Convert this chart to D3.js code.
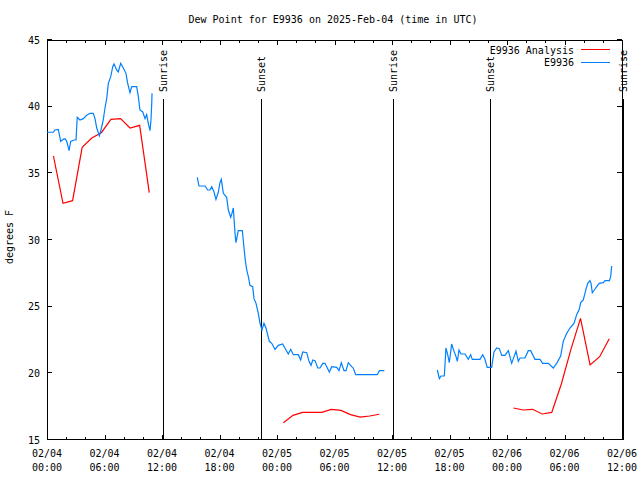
<!DOCTYPE html>
<html><head><meta charset="utf-8">
<script src="https://cdn.jsdelivr.net/npm/d3@7"></script>
<style>
body{margin:0;background:#fff;}
svg{display:block;}
text{font-family:"DejaVu Sans Mono",monospace;font-size:10px;fill:#000;}
</style></head>
<body><svg id="c" width="640" height="480"></svg>
<script>
// Observed E9936 dew point (hours since 2025-02-04 00:00 UTC); null = gap
const obsHours = [0.0,0.66,0.83,1.18,1.43,1.70,1.88,2.06,2.30,2.47,2.82,3.03,3.10,3.16,3.44,3.79,4.14,4.49,4.83,5.01,5.19,5.46,5.63,5.87,6.05,6.23,6.40,6.65,6.86,6.99,7.27,7.44,7.69,7.96,8.24,8.42,8.66,8.84,9.36,9.53,9.70,9.99,10.23,10.40,10.57,10.75,10.85,10.93,10.96,
 13.0,
 15.68,15.86,16.49,16.77,17.01,17.19,17.43,17.63,17.88,18.05,18.19,18.40,18.75,18.92,19.17,19.30,19.44,19.62,19.72,19.96,20.38,20.56,20.69,20.84,21.01,21.18,21.46,21.60,21.81,22.05,22.23,22.43,22.64,22.85,23.20,23.45,23.79,24.14,24.59,24.94,25.18,25.43,25.70,26.22,26.47,26.68,27.10,27.34,27.55,27.73,27.97,28.25,28.49,28.77,29.01,29.46,29.71,30.23,30.47,30.71,30.99,31.20,31.44,31.79,31.96,32.21,34.47,34.68,35.20,
 38.0,
 40.73,40.94,41.11,41.46,41.63,41.81,41.98,42.23,42.40,42.68,42.82,42.99,43.20,43.62,43.96,44.21,44.38,45.18,45.46,45.70,45.94,46.40,46.64,46.93,47.20,47.45,47.79,48.14,48.49,48.94,49.18,49.36,49.88,50.22,50.47,50.92,51.44,51.72,52.31,52.83,53.18,53.60,53.87,54.23,54.57,54.99,55.27,55.54,55.69,55.96,56.24,56.42,56.66,56.77,56.90,57.11,57.36,57.63,58.05,58.23,58.68,58.82,58.92];
const obsValues = [38.08,38.08,38.25,38.3,37.4,37.55,37.6,37.4,36.7,37.4,37.5,37.5,38.5,39.2,39.0,39.1,39.35,39.5,39.5,39.1,38.4,37.8,38.25,39.0,39.9,40.6,41.75,42.25,43.0,43.2,42.75,42.6,43.25,42.9,42.5,41.75,41.05,41.5,41.5,40.75,39.75,39.6,39.1,39.4,38.75,38.2,39.0,40.25,41.0,
 null,
 34.7,34.05,34.05,33.75,33.75,34.0,33.6,33.05,33.6,34.3,34.55,33.5,33.2,32.25,31.7,32.0,32.4,30.5,29.8,30.7,30.7,29.4,28.5,27.75,27.25,26.6,26.5,25.6,25.25,24.5,23.75,23.25,23.75,23.4,22.4,22.25,21.8,22.1,22.2,21.75,21.45,21.8,21.4,21.4,21.0,21.6,21.55,20.9,20.6,21.0,20.95,20.4,20.4,20.75,20.75,20.1,20.5,20.45,20.2,20.8,20.2,20.2,20.8,20.5,20.4,19.9,19.9,20.2,20.2,
 null,
 20.25,19.6,19.8,19.8,21.9,21.4,20.8,22.2,21.8,21.25,20.9,21.75,21.45,21.45,21.05,21.4,21.05,21.05,21.4,21.05,20.45,20.45,21.6,21.9,21.85,21.35,21.35,21.7,20.75,21.67,20.9,21.15,21.15,21.7,21.7,21.05,21.05,20.75,20.75,20.4,20.75,21.3,22.4,23.0,23.4,23.75,24.4,24.8,25.3,25.5,26.3,26.75,26.95,26.75,26.05,26.25,26.5,26.75,26.8,26.95,26.95,27.25,28.05];

// Analysis (hourly)
const anaHours = [0.67,1.67,2.67,3.67,4.67,5.67,6.67,7.67,8.67,9.67,10.67,
 17.0,
 24.67,25.67,26.67,27.67,28.67,29.67,30.67,31.67,32.67,33.67,34.67,
 40.0,
 48.67,49.67,50.67,51.67,52.67,53.67,54.67,55.67,56.67,57.67,58.67];
const anaValues = [36.3,32.75,32.95,36.95,37.65,38.05,39.05,39.1,38.4,38.6,33.55,
 null,
 16.3,16.85,17.07,17.07,17.07,17.3,17.22,16.9,16.72,16.8,16.93,
 null,
 17.4,17.25,17.3,16.95,17.07,19.2,21.8,24.12,20.63,21.25,22.6];

const sunHours = [12.14,22.28,36.14,46.26,60.14];
const sunLabels = ["Sunrise","Sunset","Sunrise","Sunset","Sunrise"];

const xTickHours = [0,6,12,18,24,30,36,42,48,54,60];
const xTickDates = ["02/04","02/04","02/04","02/04","02/05","02/05","02/05","02/05","02/06","02/06","02/06"];
const xTickTimes = ["00:00","06:00","12:00","18:00","00:00","06:00","12:00","18:00","00:00","06:00","12:00"];
const yTicks = [15,20,25,30,35,40,45];

const seriesNames = ["E9936 Analysis","E9936"];
const seriesColors = ["#ff0000","#0080ff"];

const svg = d3.select("#c");
const L=47, R=622, T=40, B=440;
const x = d3.scaleLinear().domain([0,60]).range([L,R]);
const y = d3.scaleLinear().domain([15,45]).range([B,T]);

// title
svg.append("text").attr("x",333).attr("y",23).attr("text-anchor","middle")
  .text("Dew Point for E9936 on 2025-Feb-04 (time in UTC)");
// y label
svg.append("text").attr("transform","translate(13,237) rotate(-90)").attr("text-anchor","middle")
  .text("degrees F");

const g = svg.append("g").attr("shape-rendering","crispEdges");
// border
g.append("rect").attr("x",L+0.5).attr("y",T+0.5).attr("width",R-L).attr("height",B-T-1)
  .attr("fill","none").attr("stroke","#000");

// x ticks
const minor = d3.range(0,61,2);
minor.forEach(h=>{
  const major = h%6===0;
  const len = major?5:3;
  const px = Math.round(x(h))+0.5;
  g.append("line").attr("x1",px).attr("x2",px).attr("y1",B).attr("y2",B-len).attr("stroke","#000");
  g.append("line").attr("x1",px).attr("x2",px).attr("y1",T).attr("y2",T+len).attr("stroke","#000");
});
xTickHours.forEach((h,i)=>{
  svg.append("text").attr("x",x(h)).attr("y",457).attr("text-anchor","middle").text(xTickDates[i]);
  svg.append("text").attr("x",x(h)).attr("y",471).attr("text-anchor","middle").text(xTickTimes[i]);
});
// y ticks
yTicks.forEach(v=>{
  const py = Math.round(y(v))-0.5;
  g.append("line").attr("x1",L).attr("x2",L+5).attr("y1",py).attr("y2",py).attr("stroke","#000");
  g.append("line").attr("x1",R).attr("x2",R-5).attr("y1",py).attr("y2",py).attr("stroke","#000");
  svg.append("text").attr("x",40).attr("y",y(v)+3.5).attr("text-anchor","end").text(v);
});

// sun lines
sunHours.forEach((h,i)=>{
  const px = Math.round(x(h))+0.5;
  g.append("line").attr("x1",px).attr("x2",px).attr("y1",99).attr("y2",B).attr("stroke","#000");
  svg.append("text").attr("transform",`translate(${x(h)+4},92) rotate(-90)`).attr("text-anchor","start")
    .text(sunLabels[i]);
});

// series lines
const line = d3.line().defined(d=>d[1]!=null).x(d=>x(d[0])).y(d=>y(d[1]));
const ana = anaHours.map((h,i)=>[h,anaValues[i]]);
const obs = obsHours.map((h,i)=>[h,obsValues[i]]);
svg.append("path").datum(ana).attr("d",line).attr("fill","none").attr("stroke",seriesColors[0]).attr("stroke-width",1.2);
svg.append("path").datum(obs).attr("d",line).attr("fill","none").attr("stroke",seriesColors[1]).attr("stroke-width",1.2);

// legend
seriesNames.forEach((n,i)=>{
  const ly = 50 + i*12.5;
  svg.append("text").attr("x",574).attr("y",ly+3.5).attr("text-anchor","end").text(n);
  svg.append("line").attr("x1",581).attr("x2",610).attr("y1",ly-0.5).attr("y2",ly-0.5)
    .attr("stroke",seriesColors[i]).attr("stroke-width",1).attr("shape-rendering","crispEdges");
});
</script></body></html>
